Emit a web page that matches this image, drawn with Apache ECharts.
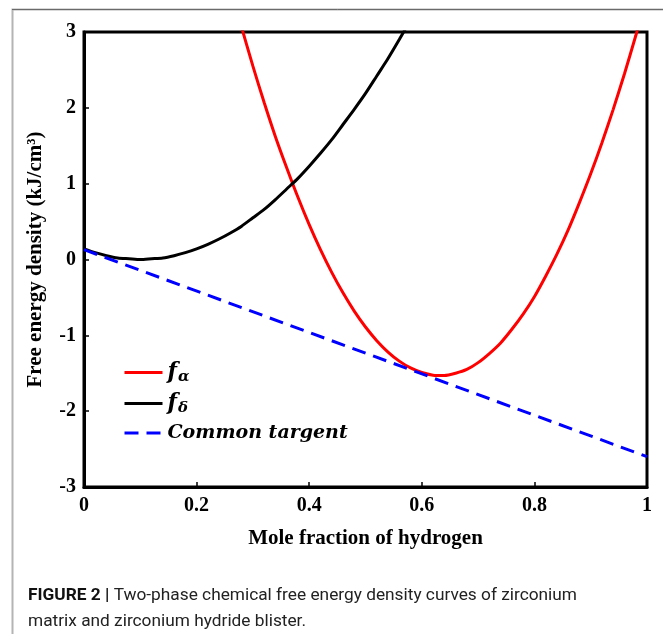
<!DOCTYPE html>
<html>
<head>
<meta charset="utf-8">
<script src="https://cdn.jsdelivr.net/npm/echarts@6/dist/echarts.min.js"></script>
<style>
  html, body { margin: 0; padding: 0; background: #fff; }
  #chart { width: 663px; height: 634px; }
</style>
</head>
<body>
<div id="chart"></div>
<script>
// values
var xTicks = [0, 0.2, 0.4, 0.6, 0.8, 1];
var yTicks = [-3, -2, -1, 0, 1, 2, 3];

// f_alpha (red): x, y
var fAlphaX = [0.275, 0.30, 0.32, 0.34, 0.36, 0.38, 0.40, 0.42, 0.44, 0.46, 0.48, 0.50, 0.52,
  0.54, 0.56, 0.58, 0.60, 0.62, 0.64, 0.66, 0.68, 0.70, 0.72, 0.74, 0.76, 0.78, 0.80, 0.82,
  0.84, 0.86, 0.88, 0.90, 0.92, 0.94, 0.96, 0.98, 0.99];
var fAlphaY = [3.19, 2.55, 2.07, 1.62, 1.21, 0.82, 0.46, 0.13, -0.17, -0.44, -0.68, -0.89, -1.07,
  -1.22, -1.34, -1.43, -1.49, -1.525, -1.53, -1.50, -1.45, -1.36, -1.24, -1.10, -0.92, -0.72, -0.49, -0.22,
  0.07, 0.39, 0.75, 1.13, 1.54, 1.98, 2.45, 2.95, 3.21];

// f_delta (black)
var fDeltaX = [0, 0.02, 0.04, 0.06, 0.08, 0.10, 0.12, 0.14, 0.16, 0.18, 0.20, 0.22, 0.24, 0.26,
  0.28, 0.30, 0.32, 0.34, 0.36, 0.38, 0.40, 0.42, 0.44, 0.46, 0.48, 0.50, 0.52, 0.54, 0.56, 0.58];
var fDeltaY = [0.14, 0.09, 0.05, 0.02, 0.01, 0, 0.01, 0.02, 0.05, 0.09, 0.14, 0.20, 0.27, 0.35,
  0.44, 0.55, 0.66, 0.79, 0.93, 1.07, 1.23, 1.40, 1.58, 1.78, 1.98, 2.19, 2.42, 2.65, 2.90, 3.16];

// common tangent (blue dashed)
var tangentX = [0, 1];
var tangentY = [0.13, -2.60];

var seriesNames = ['fa', 'fd', 'Common targent'];

function pairs(xs, ys) {
  return xs.map(function(x, i) { return [x, ys[i]]; });
}

var serif = '"Liberation Serif", "Times New Roman", serif';
var mathFont = '"DejaVu Serif", serif';
var capFont = 'Roboto, sans-serif';

var chart = echarts.init(document.getElementById('chart'));
chart.setOption({
  animation: false,
  backgroundColor: '#fff',
  grid: {left: 84, top: 32, right: 16, bottom: 147, show: true,
    borderColor: '#000', borderWidth: 3, containLabel: false},
  xAxis: {
    type: 'value', min: xTicks[0], max: xTicks[xTicks.length - 1], interval: 0.2,
    name: 'Mole fraction of hydrogen', nameLocation: 'middle', nameGap: 41,
    nameTextStyle: {fontFamily: serif, fontWeight: 'bold', fontSize: 21, color: '#000'},
    axisLine: {show: true, onZero: false, lineStyle: {color: '#000', width: 3}},
    axisTick: {show: true, inside: true, length: 5, lineStyle: {color: '#000', width: 1.5}},
    axisLabel: {fontFamily: serif, fontWeight: 'bold', fontSize: 20, color: '#000', margin: 9},
    splitLine: {show: false}
  },
  yAxis: {
    type: 'value', min: yTicks[0], max: yTicks[yTicks.length - 1], interval: 1,
    name: 'Free energy density (kJ/cm³)', nameLocation: 'middle', nameGap: 38,
    nameTextStyle: {fontFamily: serif, fontWeight: 'bold', fontSize: 21, color: '#000'},
    axisLine: {show: true, onZero: false, lineStyle: {color: '#000', width: 3}},
    axisTick: {show: true, inside: true, length: 5, lineStyle: {color: '#000', width: 1.5}},
    axisLabel: {fontFamily: serif, fontWeight: 'bold', fontSize: 20, color: '#000', margin: 8},
    splitLine: {show: false}
  },
  legend: {
    orient: 'vertical', left: 118, top: 355, itemWidth: 38, itemHeight: 14, itemGap: 6,
    data: seriesNames,
    itemStyle: {opacity: 0},
    lineStyle: {width: 3},
    formatter: function(name) {
      if (name === 'fa') return '{f|f}{s|α}';
      if (name === 'fd') return '{f|f}{s|δ}';
      return '{t|' + name + '}';
    },
    textStyle: {
      lineHeight: 22,
      rich: {
        f: {fontFamily: mathFont, fontStyle: 'italic', fontWeight: 'bold', fontSize: 22, color: '#000', lineHeight: 22},
        s: {fontFamily: mathFont, fontStyle: 'italic', fontWeight: 'bold', fontSize: 15, color: '#000',
          lineHeight: 22, padding: [10, 0, 0, 1]},
        t: {fontFamily: mathFont, fontStyle: 'italic', fontWeight: 'bold', fontSize: 19, color: '#000', lineHeight: 22}
      }
    }
  },
  graphic: [
    {type: 'rect', shape: {x: 12.5, y: 9.5, width: 700, height: 700},
      style: {fill: 'none', stroke: '#b4b4b4', lineWidth: 2}, silent: true},
    {type: 'line', shape: {x1: 12, y1: 9.5, x2: 663, y2: 9.5},
      style: {stroke: '#6a6a6a', lineWidth: 1}, silent: true},
    {type: 'text', left: 28, top: 587, style: {
      text: '{b|FIGURE 2 |}{r| Two-phase chemical free energy density curves of zirconium}',
      rich: {
        b: {fontFamily: capFont, fontWeight: 'bold', fontSize: 17.3, fill: '#111'},
        r: {fontFamily: capFont, fontSize: 17.3, fill: '#222'}
      }
    }},
    {type: 'text', left: 28, top: 613, style: {
      text: 'matrix and zirconium hydride blister.',
      fontFamily: capFont, fontSize: 17.3, fill: '#222'
    }}
  ],
  series: [
    {name: seriesNames[0], type: 'line', data: pairs(fAlphaX, fAlphaY), showSymbol: false,
      symbol: 'none', smooth: 0.25, clip: true, lineStyle: {color: '#ff0000', width: 3},
      itemStyle: {color: '#ff0000'}},
    {name: seriesNames[1], type: 'line', data: pairs(fDeltaX, fDeltaY), showSymbol: false,
      symbol: 'none', smooth: 0.25, clip: true, lineStyle: {color: '#000', width: 3},
      itemStyle: {color: '#000'}},
    {name: seriesNames[2], type: 'line', data: pairs(tangentX, tangentY), showSymbol: false,
      symbol: 'none', clip: true, lineStyle: {color: '#0000ff', width: 3, type: [14, 8]},
      itemStyle: {color: '#0000ff'}}
  ]
});
</script>
</body>
</html>
